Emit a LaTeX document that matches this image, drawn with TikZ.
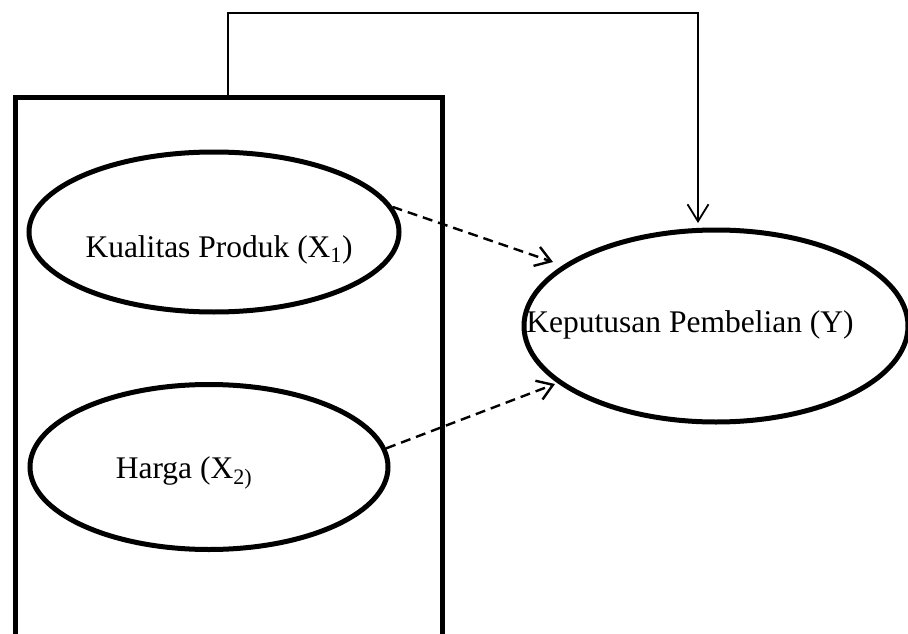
\documentclass[tikz,border=0pt]{standalone}
\usepackage{fontspec}
\setmainfont{Liberation Serif}
\usetikzlibrary{arrows.meta,shapes.geometric}
\begin{document}
\begin{tikzpicture}[x=1pt,y=-1pt,
  oval/.style={draw,ellipse,line width=5pt,inner sep=0pt},
  lbl/.style={anchor=base,inner sep=0pt,font=\fontsize{31.5}{36}\selectfont},
  dashedarrow/.style={line width=2.4pt,dash pattern=on 10pt off 6pt,-{Straight Barb[length=15pt,width=20pt]}},
  solidarrow/.style={line width=1.8pt,-{Straight Barb[length=17pt,width=21pt]}}]
\useasboundingbox (0,0) rectangle (908,634);
\begin{scope}
\clip (0,0) rectangle (908,634);
\node[draw,line width=4.5pt,minimum width=427pt,minimum height=600pt,inner sep=0pt,anchor=north west] (box) at (13,95) {};
\end{scope}
\node[oval,minimum width=370pt,minimum height=160pt] (x1) at (214,232) {};
\node[oval,minimum width=358pt,minimum height=165pt] (x2) at (209,467) {};
\node[oval,minimum width=384pt,minimum height=192pt] (y) at (716,326) {};
\node[lbl] (tx1) at (219,257) {Kualitas Produk (X\textsubscript{1})};
\node[lbl] (tx2) at (184,478) {Harga (X\textsubscript{2)}};
\node[lbl] (ty) at (690,332) {Keputusan Pembelian (Y)};
\coordinate (t1) at (553,262);
\coordinate (t2) at (555,384);
\coordinate (c1) at (228,13);
\coordinate (c2) at (698,13);
\coordinate (c3) at (698,223);
\draw[dashedarrow] (x1.8) -- (t1);
\draw[dashedarrow] (x2.6) -- (t2);
\draw[solidarrow] (box.north -| c1) -- (c1) -- (c2) -- (c3);
\end{tikzpicture}
\end{document}
